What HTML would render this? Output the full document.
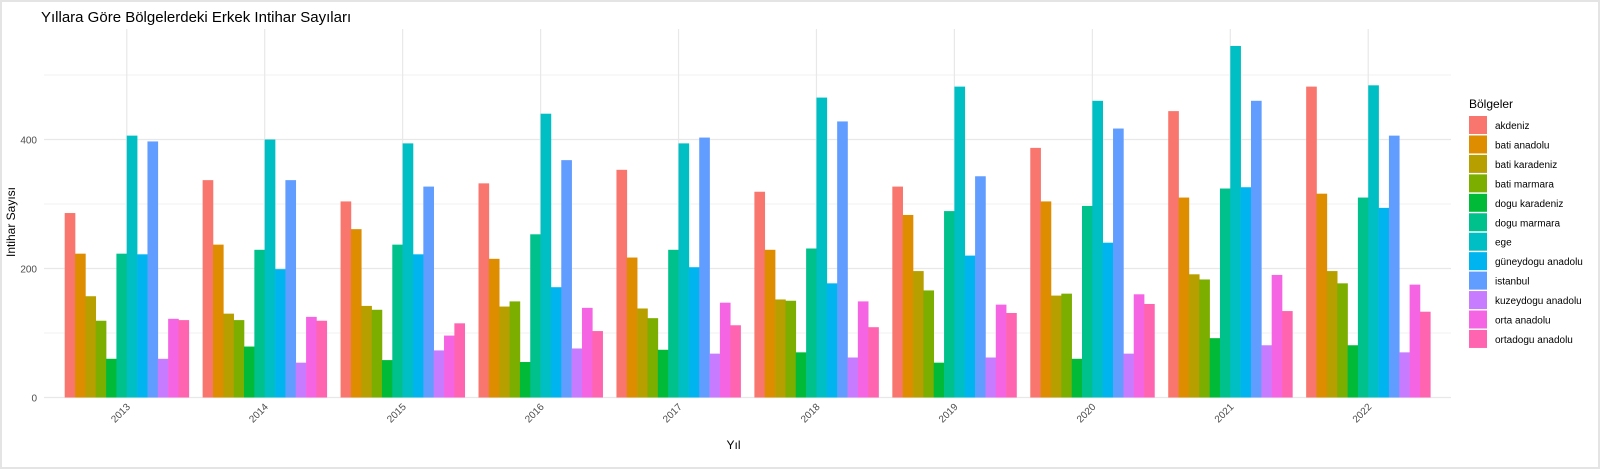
<!DOCTYPE html>
<html><head><meta charset="utf-8"><style>
html,body{margin:0;padding:0;background:#fff;}
body{width:1600px;height:469px;overflow:hidden;font-family:"Liberation Sans",Arial,sans-serif;}
#frame{position:absolute;left:0;top:0;width:1596px;height:465px;border:2px solid #e4e4e4;}
</style></head><body>
<div id="frame"></div>
<svg id="chart" width="1600" height="469" style="position:absolute;left:0;top:0"></svg>
<script>
const years = ["2013","2014","2015","2016","2017","2018","2019","2020","2021","2022"];
const regions = ["akdeniz","bati anadolu","bati karadeniz","bati marmara","dogu karadeniz","dogu marmara","ege","güneydogu anadolu","istanbul","kuzeydogu anadolu","orta anadolu","ortadogu anadolu"];
const colors = ["#F8766D","#DE8C00","#B79F00","#7CAE00","#00BA38","#00C08B","#00BFC4","#00B4F0","#619CFF","#C77CFF","#F564E3","#FF64B0"];
const akdeniz = [286,337,304,332,353,319,327,387,444,482];
const batiAnadolu = [223,237,261,215,217,229,283,304,310,316];
const batiKaradeniz = [157,130,142,141,138,152,196,158,191,196];
const batiMarmara = [119,120,136,149,123,150,166,161,183,177];
const doguKaradeniz = [60,79,58,55,74,70,54,60,92,81];
const doguMarmara = [223,229,237,253,229,231,289,297,324,310];
const ege = [406,400,394,440,394,465,482,460,545,484];
const guneydogu = [222,199,222,171,202,177,220,240,326,294];
const istanbul = [397,337,327,368,403,428,343,417,460,406];
const kuzeydogu = [60,54,73,76,68,62,62,68,81,70];
const ortaAnadolu = [122,125,96,139,147,149,144,160,190,175];
const ortadogu = [120,119,115,103,112,109,131,145,134,133];
const series = [akdeniz,batiAnadolu,batiKaradeniz,batiMarmara,doguKaradeniz,doguMarmara,ege,guneydogu,istanbul,kuzeydogu,ortaAnadolu,ortadogu];
const yMajor = [0,200,400];
const yMinor = [100,300,500];

const NS="http://www.w3.org/2000/svg";
const svg=document.getElementById('chart');
const P={l:44,r:1451,t:29,b:397.5};
const step=(P.r-P.l)/(years.length-1+1.2);
const xc=i=>P.l+step*(0.6+i);
const y=v=>P.b-v*(129/200);
const bw=step*0.9/regions.length;
function el(tag,attrs,parent){const e=document.createElementNS(NS,tag);for(const k in attrs)e.setAttribute(k,attrs[k]);(parent||svg).appendChild(e);return e;}

yMinor.forEach(v=>{const l=el('line',{x1:P.l,x2:P.r,y1:y(v),y2:y(v),stroke:'#f2f2f2','stroke-width':1});

});
yMajor.forEach(v=>{const l=el('line',{x1:P.l,x2:P.r,y1:y(v),y2:y(v),stroke:'#e8e8e8','stroke-width':1.2});


const t=el('text',{x:37,y:y(v)+4,'text-anchor':'end','font-size':10,fill:'#4d4d4d'});t.textContent=v;

});
years.forEach((yr,i)=>{const l=el('line',{x1:xc(i),x2:xc(i),y1:P.t,y2:P.b,stroke:'#e8e8e8','stroke-width':1.2});


const t=el('text',{x:0,y:0,'text-anchor':'end','font-size':10,fill:'#4d4d4d',transform:`translate(${xc(i)+4},${P.b+10}) rotate(-45)`});t.textContent=yr;

});
series.forEach((s,r)=>{s.forEach((v,i)=>{const x0=xc(i)-step*0.45+r*bw;
const b=el('rect',{x:x0,y:y(v),width:bw+0.3,height:P.b-y(v),fill:colors[r]});

});});

let t=el('text',{x:41,y:22,'font-size':15,fill:'#000'});t.textContent='Yıllara Göre Bölgelerdeki Erkek Intihar Sayıları';


t=el('text',{x:(P.l+P.r)/2-14,y:449,'text-anchor':'middle','font-size':12,fill:'#000'});t.textContent='Yıl';


t=el('text',{x:0,y:0,'text-anchor':'middle','font-size':12,fill:'#000',transform:'translate(15,222) rotate(-90)'});t.textContent='Intihar Sayısı';


t=el('text',{x:1469,y:108,'font-size':12,fill:'#000'});t.textContent='Bölgeler';


regions.forEach((r,i)=>{const ky=116+i*19.45;
const k=el('rect',{x:1469,y:ky,width:18,height:18,fill:colors[i]});


const lt=el('text',{x:1495,y:ky+13,'font-size':10,fill:'#000'});lt.textContent=r;

});
</script>
</body></html>
